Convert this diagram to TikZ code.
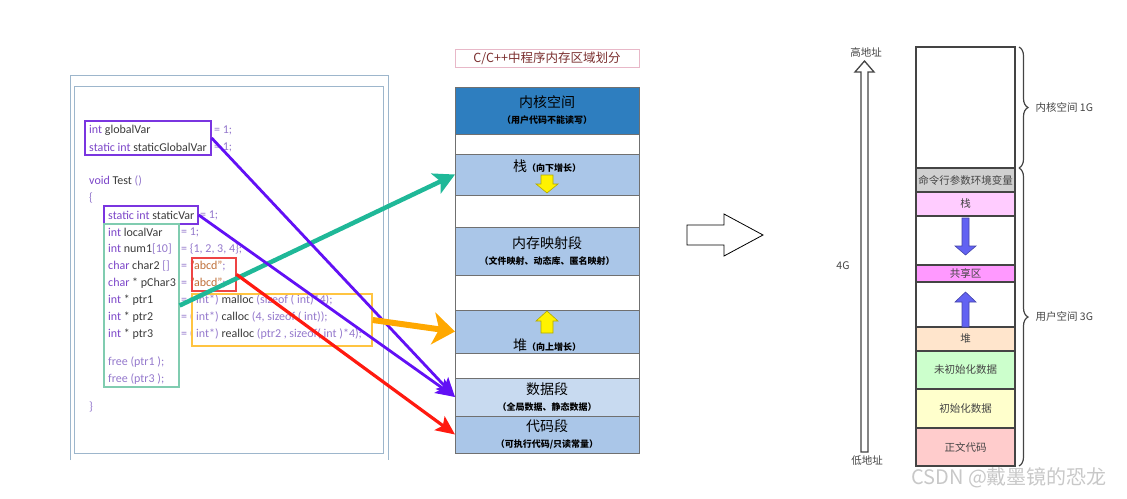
\documentclass[tikz,border=0pt]{standalone}
\usepackage{fontspec}
\setmainfont{Carlito}
\newfontfamily\cjk{Noto Sans CJK SC}
\usetikzlibrary{arrows.meta,positioning,decorations.pathreplacing}
\definecolor{PanelLine}{HTML}{9DB6CC}
\definecolor{CodeInk}{HTML}{3A3A3A}
\definecolor{KwPurple}{HTML}{7B45C8}
\definecolor{OpPurple}{HTML}{9478CC}
\definecolor{StrBrown}{HTML}{C0703A}
\definecolor{BoxPurple}{HTML}{7A35E0}
\definecolor{BoxGreen}{HTML}{80CCB0}
\definecolor{BoxRed}{HTML}{EE4444}
\definecolor{BoxYellow}{HTML}{FFC441}
\definecolor{ArrTeal}{HTML}{1FB898}
\definecolor{ArrPurple}{HTML}{6210F5}
\definecolor{ArrOrange}{HTML}{FFA800}
\definecolor{ArrRed}{HTML}{FF1A10}
\definecolor{TitleLine}{HTML}{E8B8C8}
\definecolor{TitleInk}{HTML}{7A2E2E}
\definecolor{KernBlue}{HTML}{2E7EBF}
\definecolor{SegBlue}{HTML}{AAC6E8}
\definecolor{DataBlue}{HTML}{C8DAF0}
\definecolor{SegLine}{HTML}{707070}
\definecolor{GrowYellow}{HTML}{FFF200}
\definecolor{RLine}{HTML}{444444}
\definecolor{RInk}{HTML}{444444}
\definecolor{ArgGray}{HTML}{D0D0D0}
\definecolor{StackPink}{HTML}{FFCCFF}
\definecolor{SharePink}{HTML}{FF99FF}
\definecolor{HeapPeach}{HTML}{FFE5CC}
\definecolor{BssGreen}{HTML}{CCFFCC}
\definecolor{DataYellow}{HTML}{FFFFCC}
\definecolor{TextRed}{HTML}{FFCCCC}
\definecolor{GrowBlue}{HTML}{6262F2}
\definecolor{MarkGray}{HTML}{C8C8C8}
\newcommand{\ckw}[1]{\textcolor{KwPurple}{#1}}
\newcommand{\cop}[1]{\textcolor{OpPurple}{#1}}
\newcommand{\cstr}[1]{\textcolor{StrBrown}{#1}}
\newcommand{\capt}{\fontsize{9}{11}\selectfont\bfseries}
\begin{document}
\begin{tikzpicture}[x=1pt,y=-1pt,
  node distance=0pt,
  code/.style={anchor=west,inner sep=0pt,font=\fontsize{12}{14}\selectfont,text=CodeInk},
  hlbox/.style={draw=#1,line width=1.3pt,inner sep=0pt},
  mseg/.style={draw=SegLine,line width=0.9pt,fill=#1,minimum width=184pt,inner sep=0pt,outer sep=0pt,align=center,font=\cjk\fontsize{14}{16}\selectfont},
  rseg/.style={draw=RLine,line width=1.3pt,fill=#1,minimum width=99pt,inner sep=0pt,outer sep=0pt,font=\cjk\fontsize{10.5}{12}\selectfont,text=RInk},
  rtext/.style={inner sep=0pt,font=\cjk\fontsize{10.5}{12}\selectfont,text=RInk},
  brace/.style={decorate,decoration={brace,amplitude=9pt},draw=RLine,line width=1.2pt},
  tealarr/.style={draw=ArrTeal,line width=4.5pt,-{Stealth[length=21pt,width=22pt,inset=5pt]}},
  purparr/.style={draw=ArrPurple,line width=2.8pt,-{Stealth[length=19pt,width=17pt,inset=4pt]}},
  orangearr/.style={draw=ArrOrange,line width=6pt,-{Stealth[length=22pt,width=32pt,inset=6pt]}},
  redarr/.style={draw=ArrRed,line width=3.2pt,-{Stealth[length=19pt,width=17pt,inset=4pt]}},
  grow/.style={fill=#1,draw=#1!70!black,line width=0.6pt}
]
\useasboundingbox (0,0) rectangle (1127,498);
% code panel
\draw[PanelLine,line width=1pt] (70,460) -- (70,75) -- (388,75) -- (388,460);
\draw[PanelLine,line width=1pt] (74,86) rectangle (383,453);
\node[code] (l1) at (89,130) {\ckw{int} globalVar};
\node[code] (l1r) at (214,130) {\cop{= 1;}};
\node[code] (l2) at (89,147) {\ckw{static int} staticGlobalVar};
\node[code] (l2r) at (214,147) {\cop{= 1;}};
\node[code] (l3) at (89,181) {\ckw{void} Test \cop{()}};
\node[code] (l4) at (89,198) {\cop{\{}};
\node[code] (l5) at (108,215) {\ckw{static int} staticVar};
\node[code] (l5r) at (200,215) {\cop{= 1;}};
\node[code] (l6) at (108,232) {\ckw{int} localVar};
\node[code] (l6r) at (181,232) {\cop{= 1;}};
\node[code] (l7) at (108,249) {\ckw{int} num1\cop{[10]}};
\node[code] (l7r) at (181,249) {\cop{= \{1, 2, 3, 4\};}};
\node[code] (l8) at (108,266) {\ckw{char} char2 \cop{[]}};
\node[code] (l8r) at (181,266) {\cop{=} \cstr{"abcd"}\cop{;}};
\node[code] (l9) at (108,283) {\ckw{char} * pChar3};
\node[code] (l9r) at (181,283) {\cop{=} \cstr{"abcd"}\cop{;}};
\node[code] (l10) at (108,300) {\ckw{int} * ptr1};
\node[code] (l10r) at (181,300) {\cop{= ( int*)} malloc \cop{(sizeof ( int)*4);}};
\node[code] (l11) at (108,317) {\ckw{int} * ptr2};
\node[code] (l11r) at (181,317) {\cop{= ( int*)} calloc \cop{(4, sizeof ( int));}};
\node[code] (l12) at (108,334) {\ckw{int} * ptr3};
\node[code] (l12r) at (181,334) {\cop{= ( int*)} realloc \cop{(ptr2 , sizeof( int )*4);}};
\node[code] (l13) at (108,362) {\cop{free (ptr1 );}};
\node[code] (l14) at (108,379) {\cop{free (ptr3 );}};
\node[code] (l15) at (89,407) {\cop{\}}};
% highlight boxes
\node[hlbox=BoxPurple,minimum width=126pt,minimum height=34pt] (gbox) at (148,138) {};
\node[hlbox=BoxPurple,minimum width=94pt,minimum height=18pt] (sbox) at (151,215) {};
\node[hlbox=BoxGreen,minimum width=75pt,minimum height=163pt] (lbox) at (141.5,305.5) {};
\node[hlbox=BoxRed,minimum width=44pt,minimum height=33pt] (rbox) at (214,274.5) {};
\node[hlbox=BoxYellow,minimum width=180pt,minimum height=52pt] (hbox) at (282,320) {};
% memory layout
\node[draw=TitleLine,line width=0.8pt,minimum width=184pt,minimum height=18pt,inner sep=0pt,font=\cjk\fontsize{12.5}{14}\selectfont,text=TitleInk] (title) at (547,58) {C/C++中程序内存区域划分};
\node[mseg=KernBlue,minimum height=47pt,anchor=north] (mkern) at (547,87) {内核空间\\{\capt （用户代码不能读写）}};
\node[mseg=white,minimum height=20pt,below=of mkern] (mgap1) {};
\node[mseg=SegBlue,minimum height=41pt,below=of mgap1] (mstack) {};
\node[mseg=white,minimum height=32pt,below=of mstack] (mgap2) {};
\node[mseg=SegBlue,minimum height=48pt,below=of mgap2] (mmap) {内存映射段\\{\capt （文件映射、动态库、匿名映射）}};
\node[mseg=white,minimum height=35pt,below=of mmap] (mgap3) {};
\node[mseg=SegBlue,minimum height=43pt,below=of mgap3] (mheap) {};
\node[mseg=white,minimum height=25pt,below=of mheap] (mgap4) {};
\node[mseg=DataBlue,minimum height=38pt,below=of mgap4] (mdata) {数据段\\{\capt （全局数据、静态数据）}};
\node[mseg=SegBlue,minimum height=37pt,below=of mdata] (mcode) {代码段\\{\capt （可执行代码/只读常量）}};
\node[inner sep=0pt,font=\cjk\fontsize{14}{16}\selectfont] (stacklbl) at (547,166) {栈{\capt （向下增长）}};
\node[inner sep=0pt,font=\cjk\fontsize{14}{16}\selectfont] (heaplbl) at (547,345) {堆{\capt （向上增长）}};
\draw[grow=GrowYellow] (541,175) -- (553,175) -- (553,184) -- (558,184) -- (547,193) -- (536,184) -- (541,184) -- cycle;
\draw[grow=GrowYellow] (547,311) -- (558,321) -- (553,321) -- (553,333) -- (541,333) -- (541,321) -- (536,321) -- cycle;
% connectors
\draw[tealarr] (lbox.east) -- (mstack.west);
\draw[purparr] (gbox.east) -- (mdata.west);
\draw[purparr] (sbox.east) -- (mdata.west);
\draw[orangearr] (hbox.east) -- (mheap.west);
\draw[redarr] (rbox.east) -- (mcode.west);
% big hollow arrow
\draw[line width=0.8pt,fill=white] (687,225) -- (724,225) -- (724,214) -- (763,235) -- (724,256) -- (724,245) -- (687,245) -- cycle;
% virtual address space
\node[rseg=white,minimum height=121pt,anchor=north] (rkern) at (965.5,47) {};
\node[rseg=ArgGray,minimum height=24pt,below=of rkern] (rargs) {命令行参数环境变量};
\node[rseg=StackPink,minimum height=24pt,below=of rargs] (rstack) {栈};
\node[rseg=white,minimum height=49pt,below=of rstack] (rgap1) {};
\node[rseg=SharePink,minimum height=17pt,below=of rgap1] (rshare) {共享区};
\node[rseg=white,minimum height=45pt,below=of rshare] (rgap2) {};
\node[rseg=HeapPeach,minimum height=24pt,below=of rgap2] (rheap) {堆};
\node[rseg=BssGreen,minimum height=38pt,below=of rheap] (rbss) {未初始化数据};
\node[rseg=DataYellow,minimum height=39pt,below=of rbss] (rdata) {初始化数据};
\node[rseg=TextRed,minimum height=38pt,below=of rdata] (rtxt) {正文代码};
\draw[grow=GrowBlue] (962,218) -- (969,218) -- (969,246) -- (976,246) -- (965.5,255) -- (955,246) -- (962,246) -- cycle;
\draw[grow=GrowBlue] (965.5,292) -- (976,302) -- (969,302) -- (969,327) -- (962,327) -- (962,302) -- (955,302) -- cycle;
\draw[brace] ([xshift=4pt]rkern.north east) -- ([xshift=4pt]rkern.south east) node[rtext,midway,right=16pt] (kernlbl) {内核空间 1G};
\draw[brace] ([xshift=4pt]rargs.north east) -- ([xshift=4pt]rtxt.south east) node[rtext,midway,right=16pt] (userlbl) {用户空间 3G};
\node[rtext] (high) at (866,52) {高地址};
\node[rtext] (low) at (867,461) {低地址};
\node[rtext] (size) at (843,266) {4G};
\draw[draw=RLine,line width=1.3pt,fill=white] (861,452) -- (861,72) -- (855,72) -- (864.5,61) -- (874,72) -- (868,72) -- (868,452) -- cycle;
\node[anchor=west,inner sep=0pt,font=\cjk\fontsize{20}{22}\selectfont,text=MarkGray] (mark) at (911,478) {CSDN @戴墨镜的恐龙};
\end{tikzpicture}
\end{document}
